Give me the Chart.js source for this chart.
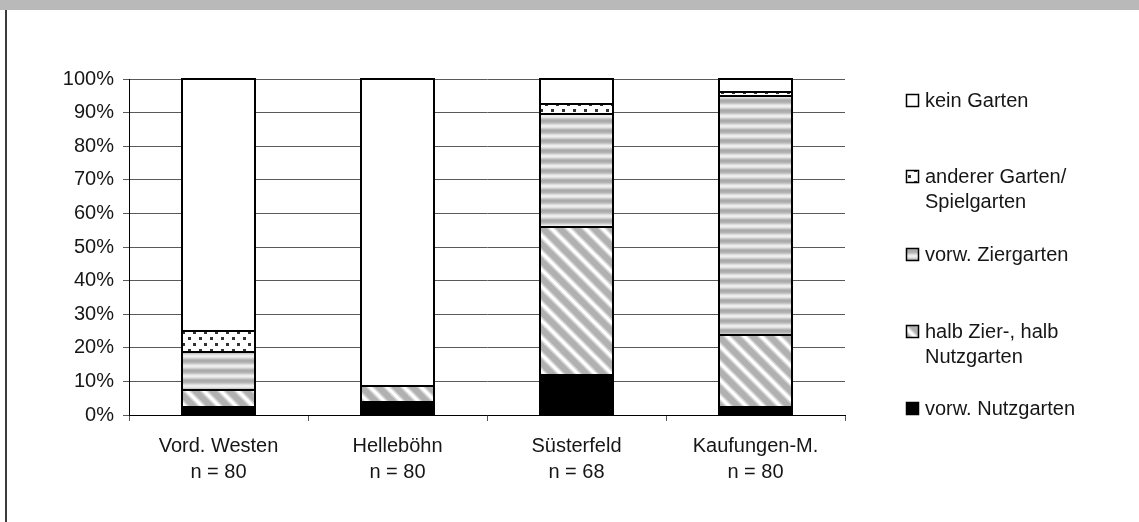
<!DOCTYPE html>
<html>
<head>
<meta charset="utf-8">
<script src="https://cdn.jsdelivr.net/npm/chart.js@4.4.0/dist/chart.umd.min.js"></script>
<style>
  body { margin: 0; background: #fff; }
  #wrap { position: relative; width: 1139px; height: 522px; overflow: hidden; }
  #band { position: absolute; left: 0; top: 0; width: 1139px; height: 10px; background: #b9b9b9; }
  #edge { position: absolute; left: 5px; top: 10px; width: 2px; height: 512px; background: #3c3c3c; }
  canvas { position: absolute; left: 0; top: 0; }
</style>
</head>
<body>
<div id="wrap">
  <canvas id="gardenChart" width="1139" height="522"></canvas>
  <div id="band"></div>
  <div id="edge"></div>
</div>
<script>
// categories (Stadtteile) and sample sizes
const districts = ['Vord. Westen', 'Helleböhn', 'Süsterfeld', 'Kaufungen-M.'];
const sampleSizes = ['n = 80', 'n = 80', 'n = 68', 'n = 80'];

// shares in percent, bottom to top of the stack
const nutzgarten = [2.5, 3.75, 11.76, 2.5];
const halbZierNutz = [5, 5, 44.12, 21.25];
const ziergarten = [11.25, 0, 33.82, 71.25];
const andererGarten = [6.25, 0, 2.94, 1.25];
const keinGarten = [75, 91.25, 7.35, 3.75];

const yTicks = [0, 10, 20, 30, 40, 50, 60, 70, 80, 90, 100];

const FONT = "'Liberation Sans', Arial, Helvetica, sans-serif";
const TEXT = '#161616';

// fill patterns like the old Excel hatching
function makePattern(w, h, paint) {
  const c = document.createElement('canvas');
  c.width = w; c.height = h;
  const g = c.getContext('2d');
  paint(g, w, h);
  return c.getContext('2d').createPattern(c, 'repeat');
}

const dotsFill = makePattern(11, 12, (g, w, h) => {
  g.fillStyle = '#fff'; g.fillRect(0, 0, w, h);
  g.fillStyle = '#333';
  g.fillRect(1, 1, 3, 3);
  g.fillRect(6, 7, 3, 3);
});

const stripeFill = makePattern(10, 10, (g, w, h) => {
  const rows = ['#a9a9a9', '#adadad', '#b4b4b4', '#c6c6c6', '#dcdcdc', '#ececec', '#eeeeee', '#e2e2e2', '#cccccc', '#b6b6b6'];
  rows.forEach((col, i) => { g.fillStyle = col; g.fillRect(0, i, w, 1); });
});

const hatchFill = makePattern(17, 17, (g, w, h) => {
  g.fillStyle = '#b1b1b1'; g.fillRect(0, 0, w, h);
  [[6, '#d6d6d6'], [3, '#ffffff']].forEach(([lw, col]) => {
    g.strokeStyle = col; g.lineWidth = lw;
    for (let c = -w; c <= w; c += w) {
      g.beginPath();
      g.moveTo(-2, -2 + c);
      g.lineTo(w + 2, w + 2 + c);
      g.stroke();
    }
  });
});

const legendLabels = [
  ['vorw. Nutzgarten'],
  ['halb Zier-, halb', 'Nutzgarten'],
  ['vorw. Ziergarten'],
  ['anderer Garten/', 'Spielgarten'],
  ['kein Garten']
];
// baseline of the first legend line for each entry
const legendBaselines = [415, 338, 261, 183, 107];

// crisp black outlines around every stacked segment (snapped to whole pixels)
const outlinePlugin = {
  id: 'segmentOutlines',
  afterDatasetsDraw(chart) {
    const ctx = chart.ctx;
    ctx.save();
    ctx.strokeStyle = '#000';
    ctx.lineWidth = 2;
    chart.data.datasets.forEach((ds, i) => {
      chart.getDatasetMeta(i).data.forEach((bar) => {
        const p = bar.getProps(['x', 'y', 'base', 'width'], true);
        const left = Math.round(p.x - p.width / 2);
        const right = Math.round(p.x + p.width / 2);
        const top = Math.round(Math.min(p.y, p.base));
        const bottom = Math.round(Math.max(p.y, p.base));
        if (bottom - top < 1) return;
        ctx.strokeRect(left, top, right - left, bottom - top);
      });
    });
    ctx.restore();
  }
};

const legendPlugin = {
  id: 'sideLegend',
  afterDraw(chart) {
    const ctx = chart.ctx;
    ctx.save();
    ctx.font = '20px ' + FONT;
    ctx.textBaseline = 'alphabetic';
    ctx.textAlign = 'left';
    chart.data.datasets.forEach((ds, i) => {
      const base = legendBaselines[i];
      ctx.fillStyle = ds.backgroundColor;
      ctx.fillRect(906, base - 13, 13, 13);
      ctx.strokeStyle = '#000';
      ctx.lineWidth = 1.5;
      ctx.strokeRect(906.5, base - 12.5, 12, 12);
      ctx.fillStyle = TEXT;
      legendLabels[i].forEach((line, k) => {
        ctx.fillText(line, 925, base + k * 25);
      });
    });
    ctx.restore();
  }
};

function series(label, data, fill) {
  return {
    label: label,
    data: data,
    backgroundColor: fill,
    borderWidth: 0,
    inflateAmount: 0.6,
    categoryPercentage: 1,
    barPercentage: 0.41
  };
}

const ctx = document.getElementById('gardenChart').getContext('2d');
const gardenChart = new Chart(ctx, {
  type: 'bar',
  data: {
    labels: districts.map((d, i) => [d, sampleSizes[i]]),
    datasets: [
      series('vorw. Nutzgarten', nutzgarten, '#000'),
      series('halb Zier-, halb Nutzgarten', halbZierNutz, hatchFill),
      series('vorw. Ziergarten', ziergarten, stripeFill),
      series('anderer Garten/Spielgarten', andererGarten, dotsFill),
      series('kein Garten', keinGarten, '#fff')
    ]
  },
  options: {
    responsive: false,
    animation: false,
    layout: { padding: { top: 79, right: 294, left: 0, bottom: 0 } },
    scales: {
      x: {
        stacked: true,
        grid: { drawOnChartArea: false, drawTicks: true, tickLength: 6, color: '#555', offset: true },
        border: { color: '#000', width: 1 },
        ticks: { color: TEXT, font: { family: FONT, size: 20, lineHeight: 1.3 }, padding: 12, maxRotation: 0 },
        afterFit: (scale) => { scale.height = 107; }
      },
      y: {
        stacked: true,
        min: 0,
        max: 100,
        afterBuildTicks: (scale) => { scale.ticks = yTicks.map(v => ({ value: v })); },
        grid: { color: '#5a5a5a', lineWidth: 1, tickLength: 6 },
        border: { color: '#000', width: 1 },
        ticks: {
          color: TEXT,
          font: { family: FONT, size: 20 },
          padding: 9,
          callback: (v) => v + '%'
        },
        afterFit: (scale) => { scale.width = 129; }
      }
    },
    plugins: {
      legend: { display: false },
      tooltip: { enabled: false }
    }
  },
  plugins: [outlinePlugin, legendPlugin]
});
</script>
</body>
</html>
